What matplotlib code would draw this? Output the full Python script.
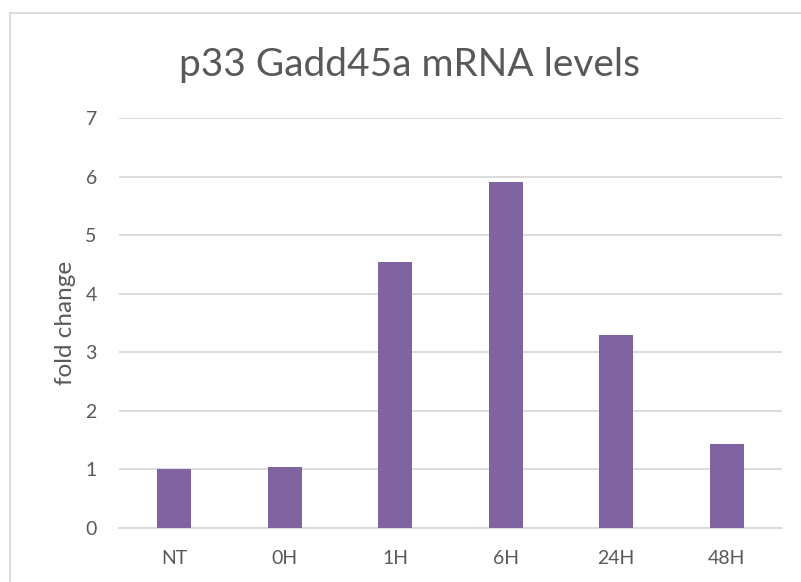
import matplotlib.pyplot as plt
from matplotlib.lines import Line2D

categories = ["NT", "0H", "1H", "6H", "24H", "48H"]
fold_change = [1.0, 1.04, 4.54, 5.91, 3.30, 1.43]

plt.rcParams['font.family'] = ['Lato', 'DejaVu Sans']
text_color = '#595959'
grid_color = '#D9D9D9'

fig = plt.figure(figsize=(8.01, 5.82), dpi=100)
ax = fig.add_axes([119 / 801, 1 - 528 / 582, (782 - 119) / 801, (528 - 118) / 582])

x = range(len(categories))
ax.bar(x, fold_change, width=0.31, color='#8064A2', zorder=3)

ax.set_xlim(-0.5, len(categories) - 0.5)
ax.set_ylim(0, 7)
ax.set_yticks(range(0, 8))
ax.set_xticks(list(x))
ax.set_xticklabels(categories)
ax.yaxis.grid(True, color=grid_color, linewidth=1.3, zorder=0)
ax.tick_params(length=0, labelsize=14, colors=text_color)
ax.tick_params(axis='x', pad=16)
ax.tick_params(axis='y', pad=16)
for side in ['top', 'right', 'left']:
    ax.spines[side].set_visible(False)
ax.spines['bottom'].set_color(grid_color)
ax.spines['bottom'].set_linewidth(1.3)

ax.set_ylabel("fold change", fontsize=17.5, color=text_color, labelpad=7)
fig.text(0.511, 0.889, "p33 Gadd45a mRNA levels", fontsize=28, color=text_color,
         ha='center', va='center')

# chart area border (cut off at right and bottom)
fig.add_artist(Line2D([10 / 801, 10 / 801], [0, 1 - 13 / 582], color=grid_color,
                      linewidth=1.3, transform=fig.transFigure))
fig.add_artist(Line2D([10 / 801, 1], [1 - 13 / 582, 1 - 13 / 582], color=grid_color,
                      linewidth=1.3, transform=fig.transFigure))

fig.savefig("out.png", dpi=100)
